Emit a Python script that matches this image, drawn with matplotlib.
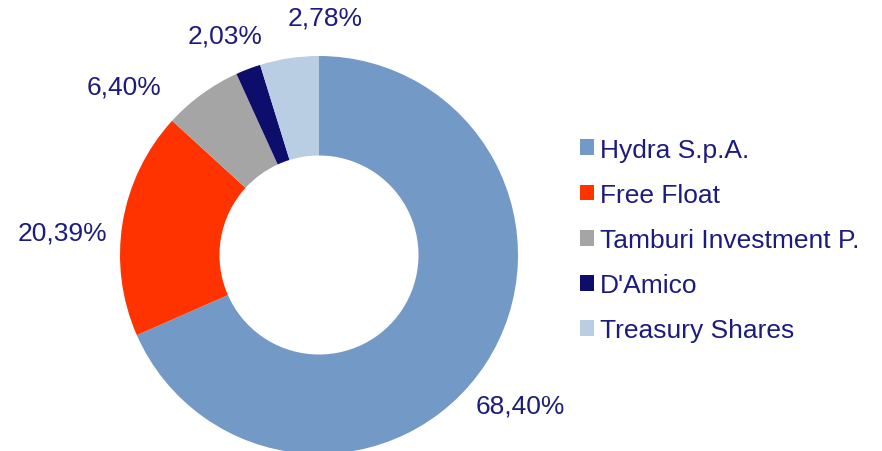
import matplotlib
matplotlib.use("Agg")
import matplotlib.pyplot as plt
from matplotlib.patches import Patch

categories = ["Hydra S.p.A.", "Free Float", "Tamburi Investment P.", "D'Amico", "Treasury Shares"]
# slice sizes as drawn in the picture
shares = [68.40, 18.39, 6.40, 2.03, 4.78]
# label texts as printed in the picture
label_texts = ["68,40%", "20,39%", "6,40%", "2,03%", "2,78%"]
colors = ["#7399C6", "#FF3300", "#A5A5A5", "#0D0D6B", "#B9CDE3"]
# label anchor points (data units, pie radius = 1)
label_xy = [(1.01, -0.755), (-1.29, 0.115), (-0.98, 0.845), (-0.47, 1.105), (0.03, 1.195)]

text_color = "#1C1C7E"
plt.rcParams["font.family"] = ["Liberation Sans", "DejaVu Sans"]

cx, cy, r = 319, 256, 199
fig = plt.figure(figsize=(8.82, 4.52), dpi=100)
ax = fig.add_axes([0, 0, 1, 1])
ax.pie(shares, colors=colors, startangle=90, counterclock=False, radius=1.0,
       wedgeprops=dict(width=0.5, edgecolor="none"))
ax.set_aspect("equal")
ax.set_xlim(-cx / r, (882 - cx) / r)
ax.set_ylim(-(452 - cy) / r, cy / r)
ax.axis("off")

for t, (x, y) in zip(label_texts, label_xy):
    ax.text(x, y, t, ha="center", va="center", fontsize=19, color=text_color)

handles = [Patch(facecolor=c, edgecolor="none") for c in colors]
leg = fig.legend(handles, categories, loc="upper left", bbox_to_anchor=(0.6575, 0.693),
                 frameon=False, fontsize=19, labelcolor=text_color,
                 handlelength=0.55, handleheight=0.55, handletextpad=0.22,
                 labelspacing=0.80, borderaxespad=0, borderpad=0)

fig.savefig("out.png", dpi=100)
